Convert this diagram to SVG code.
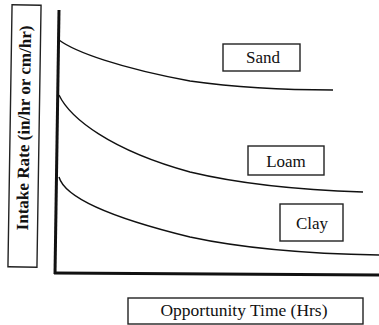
<svg xmlns="http://www.w3.org/2000/svg" width="379" height="325" viewBox="0 0 379 325">
<style>
.box{fill:#fff;stroke:#222;stroke-width:1.4}
.lbl{font-family:"Liberation Serif","Times New Roman",serif;font-size:17px;fill:#111;text-anchor:middle}
.crv{fill:none;stroke:#111;stroke-width:1.4}
.ax{fill:none;stroke:#111;stroke-width:3}
</style>
<rect width="379" height="325" fill="#fff"/>
<g id="y-label">
<rect class="box" x="10" y="5" width="29" height="262" transform="rotate(0.9 24.5 136)"/>
<text class="lbl" font-weight="bold" font-size="19" transform="translate(29.5 128) rotate(-89.1)" textLength="205" lengthAdjust="spacingAndGlyphs">Intake Rate (in/hr or cm/hr)</text>
</g>
<g id="axes">
<path class="ax" d="M59,10 L55,274"/>
<path class="ax" d="M54,273 L379,275"/>
</g>
<g id="curves">
<path class="crv" d="M59,40 C75,52 120,68 190,81 C240,88 290,90 333,90"/>
<path class="crv" d="M59,95 C70,118 110,150 190,172 C240,184 300,190 363,192"/>
<path class="crv" d="M59,177 C64,195 100,215 190,237 C250,250 320,254 379,255"/>
</g>
<g id="sand">
<rect class="box" x="223" y="44" width="77" height="27"/>
<text class="lbl" x="263" y="63">Sand</text>
</g>
<g id="loam">
<rect class="box" x="248" y="146" width="76" height="29"/>
<text class="lbl" x="286" y="167">Loam</text>
</g>
<g id="clay">
<rect class="box" x="280" y="204" width="63" height="37"/>
<text class="lbl" x="312" y="229">Clay</text>
</g>
<g id="x-label">
<rect class="box" x="128" y="298" width="235" height="26"/>
<text class="lbl" x="244" y="316" textLength="167" lengthAdjust="spacingAndGlyphs">Opportunity Time (Hrs)</text>
</g>
</svg>
